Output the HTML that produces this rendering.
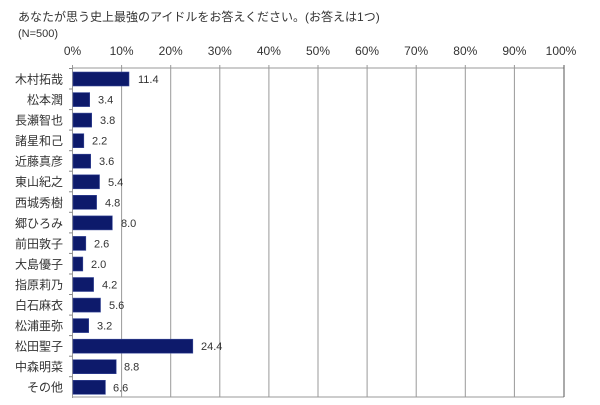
<!DOCTYPE html>
<html><head><meta charset="utf-8"><style>
html,body{margin:0;padding:0;background:#fff;}
svg{display:block;font-family:"Liberation Sans","Noto Sans CJK JP",sans-serif;}
</style></head><body>
<svg width="600" height="405" viewBox="0 0 600 405" xmlns="http://www.w3.org/2000/svg">
<rect width="600" height="405" fill="#fff"/>
<text x="18" y="21" font-size="12" fill="#333">あなたが思う史上最強のアイドルをお答えください。(お答えは1つ)</text>
<text x="18" y="37" font-size="11" fill="#333">(N=500)</text>
<g font-size="12" fill="#333" text-anchor="middle">
<text x="72.5" y="55">0%</text><text x="121.6" y="55">10%</text><text x="170.7" y="55">20%</text><text x="219.8" y="55">30%</text><text x="268.9" y="55">40%</text><text x="318" y="55">50%</text><text x="367.1" y="55">60%</text><text x="416.2" y="55">70%</text><text x="465.3" y="55">80%</text><text x="514.4" y="55">90%</text><text x="561" y="55">100%</text>
</g>
<g stroke="#999" stroke-width="1">
<line x1="121.6" y1="65" x2="121.6" y2="397"/><line x1="170.7" y1="65" x2="170.7" y2="397"/><line x1="219.8" y1="65" x2="219.8" y2="397"/><line x1="268.9" y1="65" x2="268.9" y2="397"/><line x1="318" y1="65" x2="318" y2="397"/><line x1="367.1" y1="65" x2="367.1" y2="397"/><line x1="416.2" y1="65" x2="416.2" y2="397"/><line x1="465.3" y1="65" x2="465.3" y2="397"/><line x1="514.4" y1="65" x2="514.4" y2="397"/>
<line x1="72.5" y1="68" x2="564" y2="68"/>
<line x1="72.5" y1="397" x2="564" y2="397"/>
<line x1="72.5" y1="65" x2="72.5" y2="398"/>
</g>
<line x1="564" y1="65" x2="564" y2="397" stroke="#555"/>
<g stroke="#888">
<line x1="69" y1="68.5" x2="72.5" y2="68.5"/><line x1="69" y1="89" x2="72.5" y2="89"/><line x1="69" y1="109.6" x2="72.5" y2="109.6"/><line x1="69" y1="130.1" x2="72.5" y2="130.1"/><line x1="69" y1="150.7" x2="72.5" y2="150.7"/><line x1="69" y1="171.2" x2="72.5" y2="171.2"/><line x1="69" y1="191.8" x2="72.5" y2="191.8"/><line x1="69" y1="212.3" x2="72.5" y2="212.3"/><line x1="69" y1="232.9" x2="72.5" y2="232.9"/><line x1="69" y1="253.4" x2="72.5" y2="253.4"/><line x1="69" y1="274" x2="72.5" y2="274"/><line x1="69" y1="294.5" x2="72.5" y2="294.5"/><line x1="69" y1="315.1" x2="72.5" y2="315.1"/><line x1="69" y1="335.6" x2="72.5" y2="335.6"/><line x1="69" y1="356.2" x2="72.5" y2="356.2"/><line x1="69" y1="376.7" x2="72.5" y2="376.7"/>
</g>
<g fill="#0d1a6b" stroke="#3a4a9a" stroke-width="0.6">
<rect x="73" y="72" width="56" height="14"/>
<rect x="73" y="92.6" width="16.7" height="14"/>
<rect x="73" y="113.1" width="18.7" height="14"/>
<rect x="73" y="133.7" width="10.8" height="14"/>
<rect x="73" y="154.2" width="17.7" height="14"/>
<rect x="73" y="174.8" width="26.5" height="14"/>
<rect x="73" y="195.3" width="23.6" height="14"/>
<rect x="73" y="215.9" width="39.3" height="14"/>
<rect x="73" y="236.4" width="12.8" height="14"/>
<rect x="73" y="257" width="9.8" height="14"/>
<rect x="73" y="277.5" width="20.6" height="14"/>
<rect x="73" y="298.1" width="27.5" height="14"/>
<rect x="73" y="318.6" width="15.7" height="14"/>
<rect x="73" y="339.2" width="119.8" height="14"/>
<rect x="73" y="359.7" width="43.2" height="14"/>
<rect x="73" y="380.3" width="32.4" height="14"/>
</g>
<g font-size="11" fill="#333">
<text x="138" y="83">11.4</text>
<text x="98" y="103.6">3.4</text>
<text x="100" y="124.1">3.8</text>
<text x="92" y="144.7">2.2</text>
<text x="99" y="165.2">3.6</text>
<text x="108" y="185.8">5.4</text>
<text x="105" y="206.3">4.8</text>
<text x="121" y="226.9">8.0</text>
<text x="94" y="247.4">2.6</text>
<text x="91" y="268">2.0</text>
<text x="102" y="288.5">4.2</text>
<text x="109" y="309.1">5.6</text>
<text x="97" y="329.6">3.2</text>
<text x="201" y="350.2">24.4</text>
<text x="124" y="370.7">8.8</text>
<text x="113" y="391.3">6.6</text>
</g>
<g font-size="12" fill="#333" text-anchor="end">
<text x="63" y="83.5">木村拓哉</text>
<text x="63" y="104">松本潤</text>
<text x="63" y="124.6">長瀬智也</text>
<text x="63" y="145.1">諸星和己</text>
<text x="63" y="165.7">近藤真彦</text>
<text x="63" y="186.2">東山紀之</text>
<text x="63" y="206.8">西城秀樹</text>
<text x="63" y="227.3">郷ひろみ</text>
<text x="63" y="247.9">前田敦子</text>
<text x="63" y="268.4">大島優子</text>
<text x="63" y="289">指原莉乃</text>
<text x="63" y="309.5">白石麻衣</text>
<text x="63" y="330.1">松浦亜弥</text>
<text x="63" y="350.6">松田聖子</text>
<text x="63" y="371.2">中森明菜</text>
<text x="63" y="391.7">その他</text>
</g>
</svg>
</body></html>
